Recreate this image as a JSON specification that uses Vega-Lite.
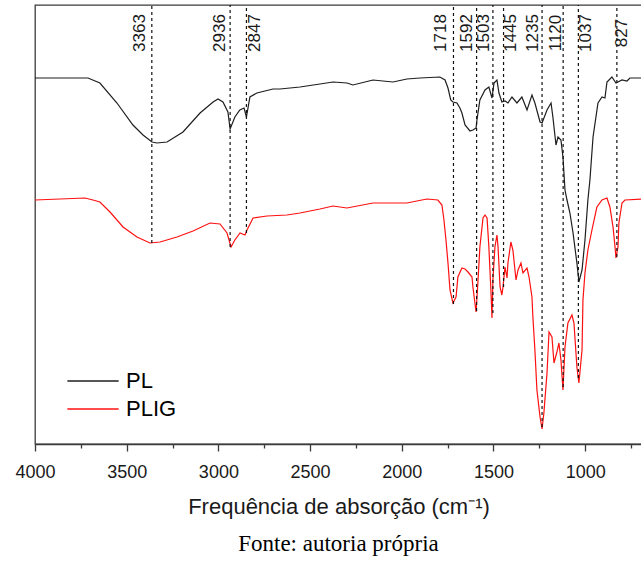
{
  "$schema": "https://vega.github.io/schema/vega-lite/v6.json",
  "width": 607,
  "height": 439,
  "autosize": {"type": "none"},
  "padding": {"left": 35, "top": 5, "right": 0, "bottom": 123},
  "background": "white",
  "config": {
    "view": {"stroke": "#3a3a3a", "strokeWidth": 1.3},
    "font": "Liberation Sans"
  },
  "title": {"text": "Fonte: autoria própria", "orient": "bottom", "font": "Liberation Serif", "fontSize": 23, "fontWeight": "normal", "color": "#000000", "offset": 16, "anchor": "middle"},
  "datasets": {
    "spectra": [
      {"s":"PL","wn":4000,"T":366},{"s":"PL","wn":3711,"T":366},{"s":"PL","wn":3646,"T":361},{"s":"PL","wn":3553,"T":341},{"s":"PL","wn":3466,"T":319},{"s":"PL","wn":3411,"T":309},{"s":"PL","wn":3362,"T":302},{"s":"PL","wn":3335,"T":301},{"s":"PL","wn":3280,"T":302},{"s":"PL","wn":3193,"T":312},{"s":"PL","wn":3100,"T":331},{"s":"PL","wn":3029,"T":342},{"s":"PL","wn":3002,"T":345},{"s":"PL","wn":2975,"T":342},{"s":"PL","wn":2948,"T":332},{"s":"PL","wn":2936,"T":315},{"s":"PL","wn":2910,"T":327},{"s":"PL","wn":2883,"T":334},{"s":"PL","wn":2860,"T":336},{"s":"PL","wn":2847,"T":327},{"s":"PL","wn":2828,"T":347},{"s":"PL","wn":2790,"T":351},{"s":"PL","wn":2702,"T":355},{"s":"PL","wn":2664,"T":355},{"s":"PL","wn":2555,"T":357},{"s":"PL","wn":2446,"T":360},{"s":"PL","wn":2375,"T":362},{"s":"PL","wn":2299,"T":361},{"s":"PL","wn":2266,"T":359},{"s":"PL","wn":2157,"T":364},{"s":"PL","wn":2048,"T":362},{"s":"PL","wn":1972,"T":365},{"s":"PL","wn":1901,"T":366},{"s":"PL","wn":1792,"T":367},{"s":"PL","wn":1764,"T":364},{"s":"PL","wn":1748,"T":356},{"s":"PL","wn":1733,"T":344},{"s":"PL","wn":1721,"T":342},{"s":"PL","wn":1699,"T":341},{"s":"PL","wn":1683,"T":336},{"s":"PL","wn":1672,"T":331},{"s":"PL","wn":1655,"T":319},{"s":"PL","wn":1628,"T":313},{"s":"PL","wn":1612,"T":314},{"s":"PL","wn":1595,"T":316},{"s":"PL","wn":1590,"T":324},{"s":"PL","wn":1574,"T":344},{"s":"PL","wn":1546,"T":354},{"s":"PL","wn":1525,"T":357},{"s":"PL","wn":1508,"T":346},{"s":"PL","wn":1497,"T":361},{"s":"PL","wn":1481,"T":364},{"s":"PL","wn":1470,"T":351},{"s":"PL","wn":1454,"T":342},{"s":"PL","wn":1437,"T":343},{"s":"PL","wn":1421,"T":341},{"s":"PL","wn":1399,"T":347},{"s":"PL","wn":1372,"T":341},{"s":"PL","wn":1345,"T":347},{"s":"PL","wn":1317,"T":334},{"s":"PL","wn":1290,"T":349},{"s":"PL","wn":1274,"T":341},{"s":"PL","wn":1246,"T":322},{"s":"PL","wn":1235,"T":321},{"s":"PL","wn":1208,"T":334},{"s":"PL","wn":1186,"T":341},{"s":"PL","wn":1176,"T":327},{"s":"PL","wn":1159,"T":299},{"s":"PL","wn":1148,"T":307},{"s":"PL","wn":1132,"T":304},{"s":"PL","wn":1121,"T":287},{"s":"PL","wn":1110,"T":254},{"s":"PL","wn":1099,"T":244},{"s":"PL","wn":1083,"T":231},{"s":"PL","wn":1066,"T":211},{"s":"PL","wn":1045,"T":181},{"s":"PL","wn":1034,"T":162},{"s":"PL","wn":1017,"T":174},{"s":"PL","wn":1001,"T":204},{"s":"PL","wn":985,"T":244},{"s":"PL","wn":974,"T":264},{"s":"PL","wn":957,"T":307},{"s":"PL","wn":930,"T":341},{"s":"PL","wn":908,"T":347},{"s":"PL","wn":892,"T":346},{"s":"PL","wn":881,"T":362},{"s":"PL","wn":854,"T":367},{"s":"PL","wn":832,"T":361},{"s":"PL","wn":799,"T":364},{"s":"PL","wn":772,"T":363},{"s":"PL","wn":756,"T":366},{"s":"PL","wn":690,"T":366},
      {"s":"PLIG","wn":4000,"T":244},{"s":"PLIG","wn":3727,"T":246},{"s":"PLIG","wn":3684,"T":244},{"s":"PLIG","wn":3646,"T":242},{"s":"PLIG","wn":3591,"T":232},{"s":"PLIG","wn":3520,"T":217},{"s":"PLIG","wn":3444,"T":207},{"s":"PLIG","wn":3373,"T":201},{"s":"PLIG","wn":3318,"T":202},{"s":"PLIG","wn":3226,"T":207},{"s":"PLIG","wn":3138,"T":213},{"s":"PLIG","wn":3046,"T":221},{"s":"PLIG","wn":2991,"T":220},{"s":"PLIG","wn":2953,"T":211},{"s":"PLIG","wn":2931,"T":197},{"s":"PLIG","wn":2910,"T":204},{"s":"PLIG","wn":2882,"T":211},{"s":"PLIG","wn":2855,"T":209},{"s":"PLIG","wn":2844,"T":214},{"s":"PLIG","wn":2811,"T":226},{"s":"PLIG","wn":2735,"T":228},{"s":"PLIG","wn":2626,"T":229},{"s":"PLIG","wn":2555,"T":231},{"s":"PLIG","wn":2446,"T":235},{"s":"PLIG","wn":2375,"T":238},{"s":"PLIG","wn":2299,"T":236},{"s":"PLIG","wn":2157,"T":241},{"s":"PLIG","wn":1972,"T":241},{"s":"PLIG","wn":1863,"T":245},{"s":"PLIG","wn":1803,"T":244},{"s":"PLIG","wn":1781,"T":239},{"s":"PLIG","wn":1770,"T":224},{"s":"PLIG","wn":1759,"T":204},{"s":"PLIG","wn":1748,"T":181},{"s":"PLIG","wn":1737,"T":154},{"s":"PLIG","wn":1721,"T":141},{"s":"PLIG","wn":1704,"T":147},{"s":"PLIG","wn":1694,"T":167},{"s":"PLIG","wn":1672,"T":176},{"s":"PLIG","wn":1655,"T":175},{"s":"PLIG","wn":1639,"T":172},{"s":"PLIG","wn":1617,"T":167},{"s":"PLIG","wn":1612,"T":157},{"s":"PLIG","wn":1595,"T":132},{"s":"PLIG","wn":1584,"T":164},{"s":"PLIG","wn":1574,"T":197},{"s":"PLIG","wn":1557,"T":226},{"s":"PLIG","wn":1546,"T":229},{"s":"PLIG","wn":1535,"T":226},{"s":"PLIG","wn":1525,"T":197},{"s":"PLIG","wn":1514,"T":154},{"s":"PLIG","wn":1508,"T":126},{"s":"PLIG","wn":1503,"T":164},{"s":"PLIG","wn":1492,"T":197},{"s":"PLIG","wn":1481,"T":209},{"s":"PLIG","wn":1475,"T":197},{"s":"PLIG","wn":1464,"T":157},{"s":"PLIG","wn":1454,"T":149},{"s":"PLIG","wn":1448,"T":157},{"s":"PLIG","wn":1437,"T":177},{"s":"PLIG","wn":1426,"T":166},{"s":"PLIG","wn":1421,"T":181},{"s":"PLIG","wn":1405,"T":202},{"s":"PLIG","wn":1394,"T":194},{"s":"PLIG","wn":1377,"T":164},{"s":"PLIG","wn":1366,"T":174},{"s":"PLIG","wn":1350,"T":181},{"s":"PLIG","wn":1339,"T":171},{"s":"PLIG","wn":1317,"T":176},{"s":"PLIG","wn":1306,"T":167},{"s":"PLIG","wn":1290,"T":147},{"s":"PLIG","wn":1285,"T":127},{"s":"PLIG","wn":1274,"T":94},{"s":"PLIG","wn":1263,"T":54},{"s":"PLIG","wn":1246,"T":27},{"s":"PLIG","wn":1235,"T":15},{"s":"PLIG","wn":1225,"T":31},{"s":"PLIG","wn":1208,"T":71},{"s":"PLIG","wn":1197,"T":112},{"s":"PLIG","wn":1181,"T":107},{"s":"PLIG","wn":1170,"T":81},{"s":"PLIG","wn":1154,"T":92},{"s":"PLIG","wn":1143,"T":101},{"s":"PLIG","wn":1132,"T":84},{"s":"PLIG","wn":1121,"T":54},{"s":"PLIG","wn":1110,"T":97},{"s":"PLIG","wn":1094,"T":121},{"s":"PLIG","wn":1072,"T":129},{"s":"PLIG","wn":1061,"T":121},{"s":"PLIG","wn":1045,"T":77},{"s":"PLIG","wn":1034,"T":61},{"s":"PLIG","wn":1017,"T":94},{"s":"PLIG","wn":1012,"T":144},{"s":"PLIG","wn":1001,"T":171},{"s":"PLIG","wn":985,"T":194},{"s":"PLIG","wn":963,"T":214},{"s":"PLIG","wn":936,"T":237},{"s":"PLIG","wn":908,"T":244},{"s":"PLIG","wn":881,"T":246},{"s":"PLIG","wn":865,"T":237},{"s":"PLIG","wn":848,"T":217},{"s":"PLIG","wn":837,"T":197},{"s":"PLIG","wn":832,"T":186},{"s":"PLIG","wn":821,"T":197},{"s":"PLIG","wn":816,"T":221},{"s":"PLIG","wn":799,"T":241},{"s":"PLIG","wn":783,"T":244},{"s":"PLIG","wn":690,"T":245}
    ],
    "peaks": [
      {"wn":3363,"label":"3363","labelWn":3430,"yEnd":201},
      {"wn":2936,"label":"2936","labelWn":2989,"yEnd":197},
      {"wn":2847,"label":"2847","labelWn":2798,"yEnd":211},
      {"wn":1718,"label":"1718","labelWn":1786,"yEnd":140},
      {"wn":1592,"label":"1592","labelWn":1642,"yEnd":133},
      {"wn":1503,"label":"1503","labelWn":1554,"yEnd":131},
      {"wn":1445,"label":"1445","labelWn":1402,"yEnd":157},
      {"wn":1235,"label":"1235","labelWn":1287,"yEnd":17},
      {"wn":1120,"label":"1120","labelWn":1159,"yEnd":57},
      {"wn":1037,"label":"1037","labelWn":993,"yEnd":66},
      {"wn":827,"label":"827","labelWn":797,"yEnd":187}
    ]
  },
  "layer": [
    {
      "data": {"name": "spectra"},
      "mark": {"type": "line", "strokeWidth": 1.2, "clip": true},
      "encoding": {
        "x": {"field": "wn", "type": "quantitative",
          "scale": {"domain": [4000, 690], "nice": false, "zero": false},
          "axis": {
            "values": [4000,3750,3500,3250,3000,2750,2500,2250,2000,1750,1500,1250,1000,750],
            "labelExpr": "datum.value % 500 === 0 ? format(datum.value, 'd') : ''",
            "tickSize": {"condition": {"test": "datum.value % 500 === 0", "value": 7}, "value": 4},
            "tickColor": "#3a3a3a", "tickWidth": 1.3,
            "domainColor": "#3a3a3a", "domainWidth": 1.3,
            "labelFont": "Liberation Sans", "labelFontSize": 18, "labelColor": "#1a1a1a", "labelPadding": 12,
            "labelFlush": false, "labelOverlap": false,
            "grid": false,
            "title": "Frequência de absorção (cm⁻¹)",
            "titleFont": "Liberation Sans", "titleFontSize": 22, "titleFontWeight": "normal", "titleColor": "#1a1a1a", "titlePadding": 15
          }
        },
        "y": {"field": "T", "type": "quantitative", "scale": {"domain": [0, 439], "nice": false, "zero": false}, "axis": null},
        "color": {"field": "s", "type": "nominal",
          "scale": {"domain": ["PL", "PLIG"], "range": ["#1e1e1e", "#ff1010"]},
          "legend": {"orient": "none", "legendX": 47, "legendY": 365, "title": null, "symbolType": "M-2.5,0H2.5", "symbolSize": 420, "symbolStrokeWidth": 1.3, "symbolFillColor": "transparent", "labelFont": "Liberation Sans", "labelFontSize": 22, "labelColor": "#000000", "labelOffset": 22, "rowPadding": 6, "padding": 0}
        }
      }
    },
    {
      "data": {"name": "peaks"},
      "mark": {"type": "rule", "strokeDash": [3, 3], "strokeWidth": 1.2, "color": "#111111"},
      "encoding": {
        "x": {"field": "wn", "type": "quantitative"},
        "y": {"field": "yEnd", "type": "quantitative"},
        "y2": {"datum": 439}
      }
    },
    {
      "data": {"name": "peaks"},
      "mark": {"type": "text", "angle": 270, "align": "center", "baseline": "middle", "font": "Liberation Sans", "fontSize": 17, "color": "#1a1a1a"},
      "encoding": {
        "x": {"field": "labelWn", "type": "quantitative"},
        "y": {"datum": 411},
        "text": {"field": "label"}
      }
    }
  ]
}
